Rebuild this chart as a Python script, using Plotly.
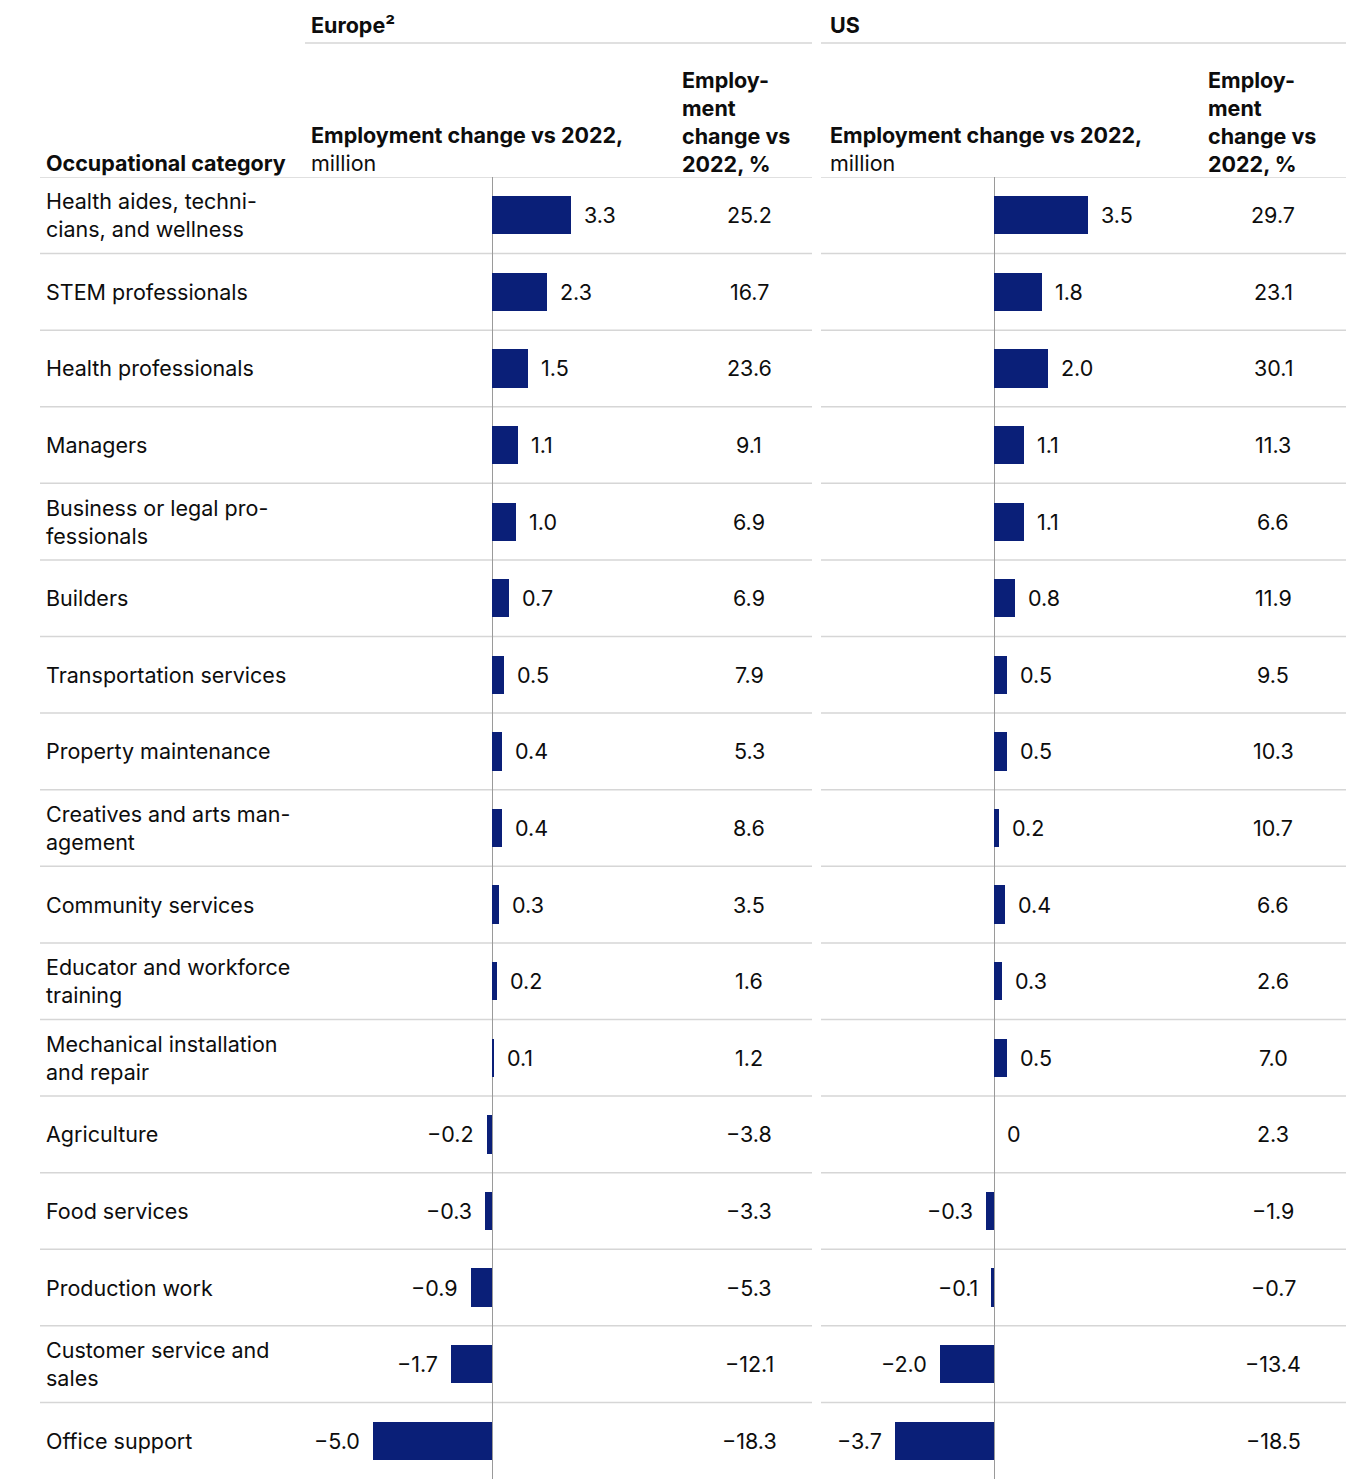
import plotly.graph_objects as go

# ---------------- data ----------------
categories = [
    "Health aides, techni-<br>cians, and wellness",
    "STEM professionals",
    "Health professionals",
    "Managers",
    "Business or legal pro-<br>fessionals",
    "Builders",
    "Transportation services",
    "Property maintenance",
    "Creatives and arts man-<br>agement",
    "Community services",
    "Educator and workforce<br>training",
    "Mechanical installation<br>and repair",
    "Agriculture",
    "Food services",
    "Production work",
    "Customer service and<br>sales",
    "Office support",
]
europe_million = [3.3, 2.3, 1.5, 1.1, 1.0, 0.7, 0.5, 0.4, 0.4, 0.3, 0.2, 0.1, -0.2, -0.3, -0.9, -1.7, -5.0]
europe_pct = [25.2, 16.7, 23.6, 9.1, 6.9, 6.9, 7.9, 5.3, 8.6, 3.5, 1.6, 1.2, -3.8, -3.3, -5.3, -12.1, -18.3]
us_million = [3.5, 1.8, 2.0, 1.1, 1.1, 0.8, 0.5, 0.5, 0.2, 0.4, 0.3, 0.5, 0.0, -0.3, -0.1, -2.0, -3.7]
us_pct = [29.7, 23.1, 30.1, 11.3, 6.6, 11.9, 9.5, 10.3, 10.7, 6.6, 2.6, 7.0, 2.3, -1.9, -0.7, -13.4, -18.5]

# ---------------- layout helpers ----------------
W, H = 1362, 1482
FONT = "Inter"
FS = 21.5
TXT = "#0d0d0d"
BAR = "#0a1f78"
GRID = "#d6d6d6"


def px(x):
    return x / W


def py(y):
    return 1 - y / H


def fmt(v):
    s = f"{abs(v):.1f}" if v != 0 else "0"
    return ("\u2212" + s) if v < 0 else s


n = len(categories)
rows = list(range(n))
row_top, row_bot = 177, 1479

# x-axis pixel geometry
eu_dom = (305, 812)
eu_zero, eu_scale = 492, 23.85
us_dom = (821, 1346)
us_zero, us_scale = 994, 26.85
eu_range = [(eu_dom[0] - eu_zero) / eu_scale, (eu_dom[1] - eu_zero) / eu_scale]
us_range = [(us_dom[0] - us_zero) / us_scale, (us_dom[1] - us_zero) / us_scale]

fig = go.Figure()
fig.add_trace(go.Bar(x=europe_million, y=rows, orientation="h", xaxis="x", yaxis="y",
                     marker=dict(color=BAR, line=dict(width=0)), width=0.5,
                     hoverinfo="skip", showlegend=False))
fig.add_trace(go.Bar(x=us_million, y=rows, orientation="h", xaxis="x2", yaxis="y",
                     marker=dict(color=BAR, line=dict(width=0)), width=0.5,
                     hoverinfo="skip", showlegend=False))

ann = []
shapes = []

# category labels, value labels, percent labels
for i in rows:
    ann.append(dict(xref="paper", yref="y", x=px(44), y=i, text=categories[i],
                    xanchor="left", yanchor="middle", align="left", showarrow=False,
                    font=dict(size=FS, color=TXT)))
    for vals, xr in ((europe_million, "x"), (us_million, "x2")):
        v = vals[i]
        ann.append(dict(xref=xr, yref="y", x=v, y=i, text=fmt(v),
                        xanchor="left" if v >= 0 else "right",
                        xshift=11 if v >= 0 else -11,
                        yanchor="middle", showarrow=False,
                        font=dict(size=FS, color=TXT)))
    for vals, cx in ((europe_pct, 749), (us_pct, 1273)):
        ann.append(dict(xref="paper", yref="y", x=px(cx), y=i, text=fmt(vals[i]),
                        xanchor="center", yanchor="middle", showarrow=False,
                        font=dict(size=FS, color=TXT)))

# row separators (including the header line)
for k in range(n):
    yv = k - 0.5
    for x0, x1 in ((40, 812), (821, 1346)):
        shapes.append(dict(type="line", xref="paper", yref="y", x0=px(x0), x1=px(x1),
                           y0=yv, y1=yv, line=dict(color=GRID, width=1.5), layer="below"))

# top group lines
for x0, x1 in ((305, 812), (821, 1346)):
    shapes.append(dict(type="line", xref="paper", yref="paper", x0=px(x0), x1=px(x1),
                       y0=py(43), y1=py(43), line=dict(color=GRID, width=1.5)))

# headers
ann.append(dict(xref="paper", yref="paper", x=px(309), y=py(25), text="<b>Europe²</b>",
                xanchor="left", yanchor="middle", showarrow=False, font=dict(size=FS, color=TXT)))
ann.append(dict(xref="paper", yref="paper", x=px(828), y=py(25), text="<b>US</b>",
                xanchor="left", yanchor="middle", showarrow=False, font=dict(size=FS, color=TXT)))
ann.append(dict(xref="paper", yref="paper", x=px(44), y=py(163), text="<b>Occupational category</b>",
                xanchor="left", yanchor="middle", showarrow=False, font=dict(size=FS, color=TXT)))
for x in (309, 828):
    ann.append(dict(xref="paper", yref="paper", x=px(x), y=py(149),
                    text="<b>Employment change vs 2022,</b><br>million", align="left",
                    xanchor="left", yanchor="middle", showarrow=False, font=dict(size=FS, color=TXT)))
for x in (680, 1206):
    ann.append(dict(xref="paper", yref="paper", x=px(x), y=py(121.5),
                    text="<b>Employ-</b><br><b>ment</b><br><b>change vs</b><br><b>2022, %</b>",
                    align="left", xanchor="left", yanchor="middle", showarrow=False,
                    font=dict(size=FS, color=TXT)))

fig.update_layout(
    width=W, height=H,
    margin=dict(l=0, r=0, t=0, b=0),
    paper_bgcolor="white", plot_bgcolor="rgba(0,0,0,0)",
    font=dict(family=FONT, size=FS, color=TXT),
    bargap=0,
    xaxis=dict(domain=[px(eu_dom[0]), px(eu_dom[1])], range=eu_range, showgrid=False,
               showticklabels=False, ticks="", zeroline=True, zerolinecolor="#9a9a9a",
               zerolinewidth=1, fixedrange=True, anchor="y"),
    xaxis2=dict(domain=[px(us_dom[0]), px(us_dom[1])], range=us_range, showgrid=False,
                showticklabels=False, ticks="", zeroline=True, zerolinecolor="#9a9a9a",
                zerolinewidth=1, fixedrange=True, anchor="y"),
    yaxis=dict(domain=[py(row_bot), py(row_top)], range=[n - 0.5, -0.5], showgrid=False,
               showticklabels=False, ticks="", zeroline=False, fixedrange=True),
    annotations=ann,
    shapes=shapes,
)

fig.write_html("out.html", config={"displayModeBar": False},
               post_script="document.body.style.margin='0';document.body.style.overflow='hidden';")
